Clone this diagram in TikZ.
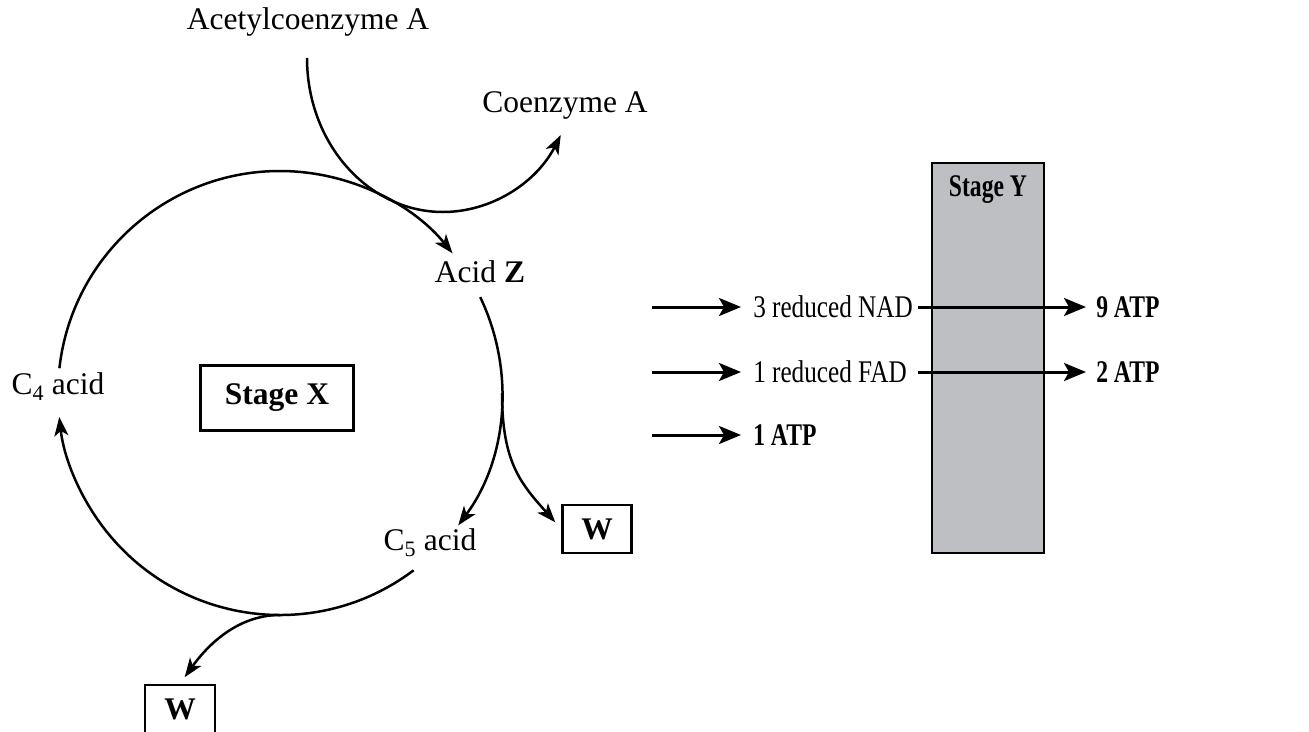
\documentclass[tikz,border=0pt]{standalone}
\usepackage{fontspec}
\setmainfont{Liberation Serif}
\newfontfamily\narrowfont[FakeStretch=0.8,BoldFeatures={FakeStretch=0.75}]{Liberation Serif}
\usetikzlibrary{arrows.meta}
\usetikzlibrary{calc}
\definecolor{stagegrey}{RGB}{190,191,195}
\tikzset{
  flow/.style={-{Stealth[length=19pt,width=14pt,inset=5pt]}},
  bigflow/.style={line width=3pt, -{Stealth[length=22pt,width=18pt,inset=5pt]}},
  stagebox/.style={draw, line width=2.5pt, font=\bfseries},
}

\begin{document}
\fontsize{31.5}{36}\selectfont
\begin{tikzpicture}[x=1pt,y=-1pt, line width=2.5pt, inner sep=0pt]
  \useasboundingbox (0,0) rectangle (1309,731);
  % centre of the cycle and points on its rim
  \coordinate (O) at (280,393);
  \coordinate (c4top) at ($(O)+(186.4:222)$);
  \coordinate (ztail) at ($(O)+(-25.6:222)$);
  \coordinate (rim) at ($(O)+(0:222)$);
  \coordinate (c5tail) at ($(O)+(53:222)$);
  \coordinate (bottom) at ($(O)+(90:222)$);
  \coordinate (acstart) at (307,58);
  % labels of the cycle
  \node (acetyl) at (308,22) {Acetylcoenzyme A};
  \node (coa) at (565,105) {Coenzyme A};
  \node (acidz) at (480,272) {Acid \textbf{Z}};
  \node (cfour) at (58,387) {C\textsubscript{4} acid};
  \node (cfive) at (430,543) {C\textsubscript{5} acid};
  \node[stagebox, minimum width=153pt, minimum height=65pt] (stagex) at (277,398) {Stage X};
  \node[stagebox, minimum width=69pt, minimum height=48pt] (wright) at (597,529) {W};
  \node[stagebox, minimum width=70pt, minimum height=48pt] (wleft) at (180,709) {W};
  % draw the cycle
  \draw[flow] (acstart) arc[start angle=180, end angle=30, x radius=136, y radius=154];
  \draw[flow] (c4top) arc[start angle=186.4, end angle=321, radius=222];
  \draw[flow] (ztail) arc[start angle=-25.6, end angle=36.6, radius=222];
  \draw[flow] (c5tail) arc[start angle=53, end angle=173.8, radius=222];
  % branches to W
  \draw[flow, shorten >=9pt] (rim) .. controls +(0,70) and +(-40,-45) .. (wright.west);
  \draw[flow, shorten >=8pt] (bottom) .. controls +(-45,0) and +(25,-35) .. (wleft.north);
  % stage Y column
  \node[draw, line width=2pt, fill=stagegrey, minimum width=112pt, minimum height=390pt] (stagey) at (988,358) {};
  \node[font=\narrowfont\bfseries] (stageylbl) at (988,190) {Stage Y};
  % products of the cycle
  \node[anchor=west, font=\narrowfont] (nad) at (752,307) {3 reduced NAD};
  \node[anchor=west, font=\narrowfont] (fad) at (752,372) {1 reduced FAD};
  \node[anchor=west, font=\narrowfont\bfseries] (atpone) at (752,435) {1 ATP};
  \node[anchor=west, font=\narrowfont\bfseries] (atpnine) at (1095,307) {9 ATP};
  \node[anchor=west, font=\narrowfont\bfseries] (atptwo) at (1095,372) {2 ATP};
  \coordinate (nadin) at (652,307);
  \coordinate (fadin) at (652,372);
  \coordinate (atpin) at (652,435);
  \coordinate (nadout) at (918,307);
  \coordinate (fadout) at (918,372);
  \draw[bigflow, shorten >=11pt] (nadin) -- (nad.west);
  \draw[bigflow, shorten >=11pt] (fadin) -- (fad.west);
  \draw[bigflow, shorten >=11pt] (atpin) -- (atpone.west);
  \draw[bigflow, shorten >=9pt] (nadout) -- (atpnine.west);
  \draw[bigflow, shorten >=9pt] (fadout) -- (atptwo.west);
\end{tikzpicture}
\end{document}
